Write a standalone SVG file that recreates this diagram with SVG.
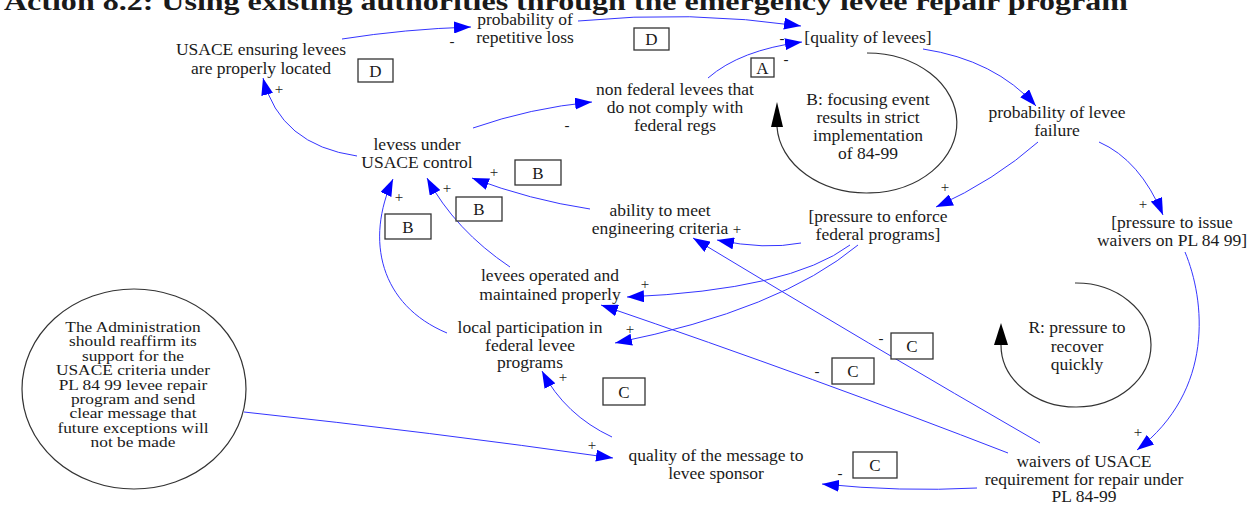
<svg xmlns="http://www.w3.org/2000/svg" width="1260" height="506" viewBox="0 0 1260 506" font-family="'Liberation Serif', 'Times New Roman', serif">
<defs>
<marker id="ah" markerUnits="userSpaceOnUse" markerWidth="18" markerHeight="12" refX="17" refY="6" orient="auto">
<path d="M0,0 L17,6 L0,12 z" fill="#0000ff"/>
</marker>
<style>
text{font-family:"Liberation Serif","Times New Roman",serif;fill:#1a1a1a}
.lbl{font-size:17.5px;text-anchor:middle}
.sm{font-size:14px;text-anchor:middle}
.sg{font-size:15px;text-anchor:middle}
.title{font-size:26px;font-weight:bold}
.box rect{fill:#fff;stroke:#333;stroke-width:1.3}
.box text{font-size:17px;text-anchor:middle}
.lk{fill:none;stroke:#3535ff;stroke-width:1;marker-end:url(#ah)}
.loop{fill:none;stroke:#333;stroke-width:1.2}
</style>
</defs>
<rect width="1260" height="506" fill="#fff"/>
<text class="title" x="4" y="10" textLength="1124" lengthAdjust="spacingAndGlyphs">Action 8.2: Using existing authorities through the emergency levee repair program</text>

<g id="connectors">
<path class="lk" d="M342,39 Q405,29 471,27"/>
<path class="lk" d="M578,21 Q690,10 801,26"/>
<path class="lk" d="M708,78 Q740,50 802,42"/>
<path class="lk" d="M473,128 Q530,108 592,102"/>
<path class="lk" d="M357,156 Q280,145 263,78"/>
<path class="lk" d="M923,49 Q995,60 1036,106"/>
<path class="lk" d="M1038,142 Q995,180 936,207"/>
<path class="lk" d="M1099,142 Q1140,160 1163,215"/>
<path class="lk" d="M1185,252 C1205,300 1215,390 1137,450"/>
<path class="lk" d="M801,243 Q765,250 717,240"/>
<path class="lk" d="M850,245 Q790,290 627,297"/>
<path class="lk" d="M858,245 Q780,310 615,343"/>
<path class="lk" d="M590,209 Q530,200 472,178"/>
<path class="lk" d="M510,267 Q455,230 427,178"/>
<path class="lk" d="M447,333 C380,305 365,240 393,179"/>
<path class="lk" d="M612,437 Q565,415 542,371"/>
<path class="lk" d="M244,412 Q430,432 613,458"/>
<path class="lk" d="M1040,443 Q870,345 693,238"/>
<path class="lk" d="M1008,453 Q820,380 601,305"/>
<path class="lk" d="M977,488 Q900,492 822,484"/>
</g>

<g id="loop-B">
<path class="loop" d="M867,53 A90,70 0 1 1 777,127"/>
<polygon points="777,102 771,127 783,127" fill="#000"/>
<text class="lbl" x="868" y="105">B: focusing event</text>
<text class="lbl" x="868" y="123">results in strict</text>
<text class="lbl" x="868" y="141">implementation</text>
<text class="lbl" x="868" y="159">of 84-99</text>
</g>
<g id="loop-R">
<path class="loop" d="M1075,283 A75,62 0 1 1 1001,345"/>
<polygon points="1001,323 994,345 1008,345" fill="#000"/>
<text class="lbl" x="1077" y="333">R: pressure to</text>
<text class="lbl" x="1077" y="352">recover</text>
<text class="lbl" x="1077" y="370">quickly</text>
</g>

<g id="n-repetitive"><text class="lbl" x="525" y="25">probability of</text><text class="lbl" x="525" y="43">repetitive loss</text></g>
<g id="n-ensuring"><text class="lbl" x="261" y="55">USACE ensuring levees</text><text class="lbl" x="261" y="74">are properly located</text></g>
<g id="n-quality"><text class="lbl" x="868" y="43">[quality of levees]</text></g>
<g id="n-nonfederal"><text class="lbl" x="675" y="95">non federal levees that</text><text class="lbl" x="675" y="113">do not comply with</text><text class="lbl" x="675" y="131">federal regs</text></g>
<g id="n-failure"><text class="lbl" x="1057" y="118">probability of levee</text><text class="lbl" x="1057" y="136">failure</text></g>
<g id="n-issue"><text class="lbl" x="1172" y="228">[pressure to issue</text><text class="lbl" x="1172" y="246">waivers on PL 84 99]</text></g>
<g id="n-enforce"><text class="lbl" x="878" y="222">[pressure to enforce</text><text class="lbl" x="878" y="240">federal programs]</text></g>
<g id="n-ability"><text class="lbl" x="660" y="216">ability to meet</text><text class="lbl" x="660" y="234">engineering criteria</text></g>
<g id="n-control"><text class="lbl" x="417" y="150">levess under</text><text class="lbl" x="417" y="168">USACE control</text></g>
<g id="n-operated"><text class="lbl" x="550" y="281">levees operated and</text><text class="lbl" x="550" y="300">maintained properly</text></g>
<g id="n-local"><text class="lbl" x="530" y="333">local participation in</text><text class="lbl" x="530" y="351">federal levee</text><text class="lbl" x="530" y="368">programs</text></g>
<g id="n-message"><text class="lbl" x="716" y="461">quality of the message to</text><text class="lbl" x="716" y="479">levee sponsor</text></g>
<g id="n-waivers"><text class="lbl" x="1084" y="467">waivers of USACE</text><text class="lbl" x="1084" y="485">requirement for repair under</text><text class="lbl" x="1084" y="502">PL 84-99</text></g>
<g id="n-administration">
<ellipse cx="134" cy="389" rx="112" ry="100" fill="#fff" stroke="#333" stroke-width="1.2"/>
<g transform="translate(133,0) scale(1.24,1) translate(-133,0)">
<text class="sm" x="133" y="332">The Administration</text>
<text class="sm" x="133" y="346.4">should reaffirm its</text>
<text class="sm" x="133" y="360.8">support for the</text>
<text class="sm" x="133" y="375.2">USACE criteria under</text>
<text class="sm" x="133" y="389.6">PL 84 99 levee repair</text>
<text class="sm" x="133" y="404">program and send</text>
<text class="sm" x="133" y="418.4">clear message that</text>
<text class="sm" x="133" y="432.8">future exceptions will</text>
<text class="sm" x="133" y="447.2">not be made</text>
</g>
</g>

<g id="loop-labels" class="box">
<rect x="358" y="59" width="35" height="23"/><text x="375.5" y="76.5">D</text>
<rect x="634" y="28" width="35" height="22"/><text x="651.5" y="45">D</text>
<rect x="751" y="58" width="23" height="19"/><text x="762.5" y="73.5">A</text>
<rect x="515" y="160" width="46" height="25"/><text x="538" y="178.5">B</text>
<rect x="456" y="197" width="46" height="24"/><text x="479" y="215">B</text>
<rect x="385" y="214" width="46" height="25"/><text x="408" y="232.5">B</text>
<rect x="891" y="333" width="42" height="26"/><text x="912" y="352">C</text>
<rect x="832" y="358" width="42" height="26"/><text x="853" y="377">C</text>
<rect x="603" y="378" width="42" height="27"/><text x="624" y="397.5">C</text>
<rect x="853" y="452" width="44" height="26"/><text x="875" y="471">C</text>
</g>

<g id="signs">
<text class="sg" x="452" y="46">-</text>
<text class="sg" x="782" y="43">-</text>
<text class="sg" x="786" y="64">-</text>
<text class="sg" x="567" y="130">-</text>
<text class="sg" x="279" y="94">+</text>
<text class="sg" x="945" y="192">+</text>
<text class="sg" x="1143" y="209">+</text>
<text class="sg" x="1138" y="437">+</text>
<text class="sg" x="737" y="234">+</text>
<text class="sg" x="645" y="289">+</text>
<text class="sg" x="630" y="334">+</text>
<text class="sg" x="494" y="177">+</text>
<text class="sg" x="447" y="193">+</text>
<text class="sg" x="399" y="202">+</text>
<text class="sg" x="563" y="382">+</text>
<text class="sg" x="592" y="450">+</text>
<text class="sg" x="881" y="343">-</text>
<text class="sg" x="817" y="376">-</text>
<text class="sg" x="840" y="478">-</text>
</g>
</svg>
